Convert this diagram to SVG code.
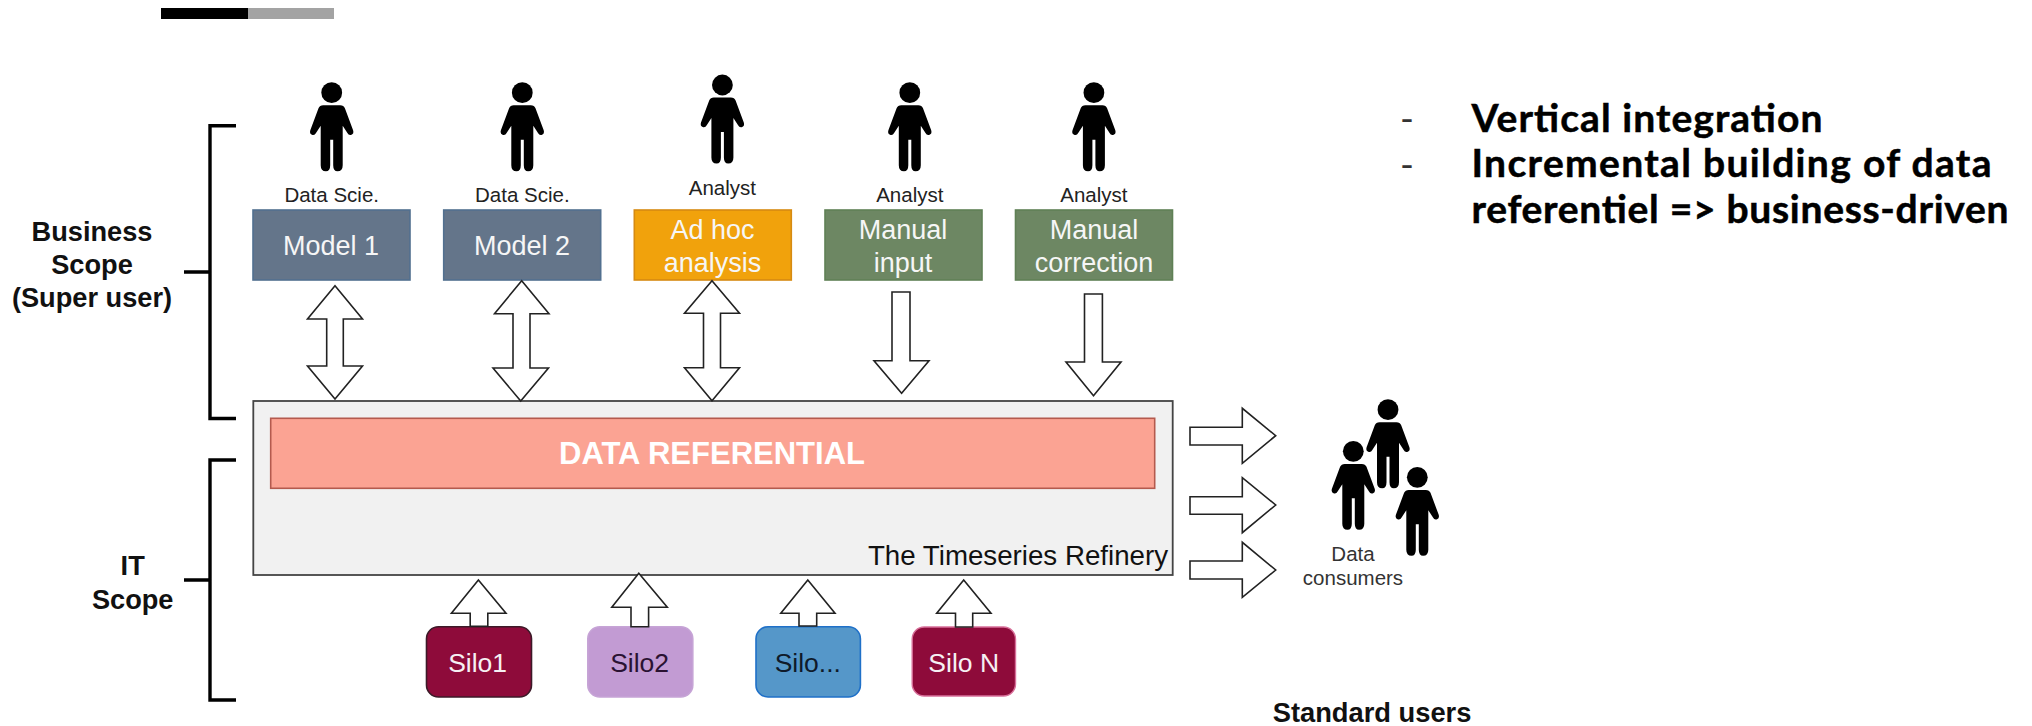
<svg xmlns="http://www.w3.org/2000/svg" width="2032" height="726" viewBox="0 0 2032 726">
<style>
text{font-family:"Liberation Sans",Arial,sans-serif}
.m{text-anchor:middle}
.lbl{font-size:20.5px;fill:#222}
.box{font-size:27px;fill:#f6f6f6;text-anchor:middle}
.b{font-weight:700;fill:#111;font-size:27.2px;text-anchor:middle}
.ar{fill:#fff;stroke:#222;stroke-width:1.6;stroke-linejoin:miter}
.br{fill:none;stroke:#000;stroke-width:3.4}
.rt{font-family:Lato,"Open Sans",sans-serif;font-weight:700;font-size:39px;fill:#000;stroke:#000;stroke-width:.5}
.da{font-family:Lato,"Open Sans",sans-serif;font-size:37.5px;fill:#333}
</style>
<defs>
<g id="person"><circle cx="0" cy="0" r="10.4"/><path d="M-8.5,12.6H8.5Q12,12.6 13.2,15.5L21.4,37.5Q22.4,41 19.8,42Q17,43 15.7,40.2L11,33V72.5Q11,78.5 5.8,78.5Q1.5,78.5 1.5,72.5V47H-1.5V72.5Q-1.5,78.5 -5.8,78.5Q-11,78.5 -11,72.5V33L-15.7,40.2Q-17,43 -19.8,42Q-22.4,41 -21.4,37.5L-13.2,15.5Q-12,12.6 -8.5,12.6Z"/></g>
</defs>
<rect x="161" y="8" width="87" height="11" fill="#000"/>
<rect x="248" y="8" width="86" height="11" fill="#a3a3a3"/>
<g id="brackets">
<path class="br" d="M236,125.7H210V418.5H236M184,272H210"/>
<path class="br" d="M236,460H210V700H236M184,580H210"/>
</g>
<g id="scope-labels">
<text class="b" x="92" y="240.7">Business</text>
<text class="b" x="92" y="274">Scope</text>
<text class="b" x="92" y="306.7">(Super user)</text>
<text class="b" x="132.7" y="574.7">IT</text>
<text class="b" x="132.7" y="609">Scope</text>
</g>
<g id="refinery">
<rect x="253.3" y="401" width="919.4" height="174" fill="#f1f1f1" stroke="#444" stroke-width="1.8"/>
<text x="1168" y="565" font-size="27.7" fill="#111" text-anchor="end">The Timeseries Refinery</text>
</g>
<g id="referential">
<rect x="270.7" y="418.3" width="884" height="70" fill="#fba393" stroke="#b45a4e" stroke-width="1.6"/>
<text x="712" y="464" font-size="31" font-weight="700" fill="#fff" class="m">DATA REFERENTIAL</text>
</g>
<g id="model1">
<use href="#person" x="331.7" y="92.7"/><text class="lbl m" x="331.7" y="201.7">Data Scie.</text>
<rect x="253" y="210" width="157" height="70" fill="#64758a" stroke="#52708f" stroke-width="1.6"/><text class="box" x="331" y="255">Model 1</text>
</g>
<g id="model2">
<use href="#person" x="522.3" y="92.7"/><text class="lbl m" x="522.3" y="201.7">Data Scie.</text>
<rect x="443.7" y="210" width="157" height="70" fill="#64758a" stroke="#52708f" stroke-width="1.6"/><text class="box" x="522" y="255">Model 2</text>
</g>
<g id="adhoc">
<use href="#person" x="722.4" y="85"/><text class="lbl m" x="722.4" y="195">Analyst</text>
<rect x="634.3" y="210" width="157" height="70" fill="#f1a20c" stroke="#d68a12" stroke-width="1.6"/><text class="box" x="712.6" y="238.7">Ad hoc</text><text class="box" x="712.6" y="272">analysis</text>
</g>
<g id="manual-input">
<use href="#person" x="909.8" y="92.7"/><text class="lbl m" x="909.8" y="202">Analyst</text>
<rect x="825" y="210" width="157" height="70" fill="#6d8763" stroke="#5f8055" stroke-width="1.6"/><text class="box" x="903" y="238.7">Manual</text><text class="box" x="903" y="272">input</text>
</g>
<g id="manual-correction">
<use href="#person" x="1093.9" y="92.7"/><text class="lbl m" x="1093.9" y="202">Analyst</text>
<rect x="1015.5" y="210" width="157" height="70" fill="#6d8763" stroke="#5f8055" stroke-width="1.6"/><text class="box" x="1094" y="238.7">Manual</text><text class="box" x="1094" y="272">correction</text>
</g>
<g id="silo1"><rect x="426.5" y="626.7" width="105" height="70.3" rx="12" fill="#8e0b3a" stroke="#3c1a28" stroke-width="1.6"/><text x="477.6" y="672.3" font-size="26.5" fill="#f6f0f3" class="m">Silo1</text></g>
<g id="silo2"><rect x="587.8" y="626.7" width="105" height="70.3" rx="12" fill="#c29bd3" stroke="#c6a4d6" stroke-width="1.6"/><text x="639.6" y="672.3" font-size="26.5" fill="#2a1232" class="m">Silo2</text></g>
<g id="silo3"><rect x="756" y="626.7" width="104.4" height="70.3" rx="12" fill="#5597c9" stroke="#1f70c8" stroke-width="1.6"/><text x="807.8" y="672.3" font-size="26.5" fill="#0f1a2a" class="m">Silo...</text></g>
<g id="silon"><rect x="912.2" y="627" width="103.3" height="69" rx="12" fill="#8e0b3a" stroke="#d8709a" stroke-width="1.4"/><text x="963.7" y="672.3" font-size="26.5" fill="#f6f0f3" class="m">Silo N</text></g>
<g id="consumers">
<use href="#person" x="1388" y="409.7"/><use href="#person" x="1353.3" y="451.3"/><use href="#person" x="1417.3" y="477.3"/>
<text class="lbl m" x="1353" y="560.7" style="fill:#333">Data</text>
<text class="lbl m" x="1353" y="585" style="fill:#333">consumers</text>
</g>
<text x="1272.7" y="721.7" font-size="27.3" font-weight="700" fill="#111">Standard users</text>
<g id="connectors">
<path class="ar" d="M335,285.7L362.5,319H343.3V366H362.5L335,399L307.5,366H326.7V319H307.5Z"/>
<path class="ar" d="M521.7,280.7L549,313.7H530V368H548.5L520.7,401L493,368H513V313.7H494.5Z"/>
<path class="ar" d="M712,280.7L739.5,313.3H720.5V367.7H739.5L712,400.7L684.5,367.7H703.5V313.3H684.5Z"/>
<path class="ar" d="M892,292H910V360.7H929L901.6,393.3L874,360.7H892Z"/>
<path class="ar" d="M1084.5,294H1102.4V362H1121L1093.5,395.7L1066,362H1084.5Z"/>
<path class="ar" d="M1190,427.3H1242.3V408.3L1275.7,435.7L1242.3,463.3V445H1190Z"/>
<path class="ar" d="M1190,496.7H1242.3V477.7L1275.7,505L1242.3,532.7V514.3H1190Z"/>
<path class="ar" d="M1190,561H1242.3V542.3L1275.7,570L1242.3,597.3V579H1190Z"/>
<path class="ar" d="M478.4,580L506,613.3H487.8V626.3H470.2V613.3H451.4Z"/>
<path class="ar" d="M638.8,573.3L667.3,607.3H648.6V626.7H631V607.3H611.8Z"/>
<path class="ar" d="M807.8,580L835,613.3H816.7V626H799V613.3H780.8Z"/>
<path class="ar" d="M963.7,580L991,613.3H972.7V627H955.5V613.3H936.7Z"/>
</g>
<g id="notes">
<text class="da" x="1400" y="131.7">-</text>
<text class="da" x="1400" y="178">-</text>
<text class="rt" x="1471.5" y="131.7" textLength="351">Vertical integration</text>
<text class="rt" x="1471.5" y="177" textLength="520">Incremental building of data</text>
<text class="rt" x="1471.5" y="223" textLength="537">referentiel =&gt; business-driven</text>
</g>
</svg>
